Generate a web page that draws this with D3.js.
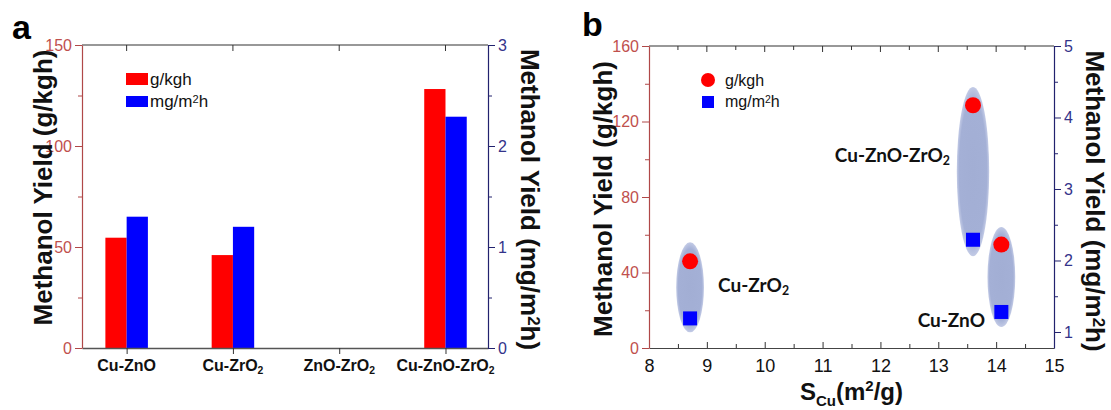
<!DOCTYPE html>
<html><head><meta charset="utf-8">
<script src="https://cdn.jsdelivr.net/npm/d3@7"></script>
<style>body{margin:0;background:#fff}svg{display:block}</style>
</head><body>
<svg id="c" width="1111" height="410"></svg>
<script>
// Panel a data
const catsA = ["Cu-ZnO","Cu-ZrO2","ZnO-ZrO2","Cu-ZnO-ZrO2"];
const yieldG = [54.6, 46.0, 0, 128.2];      // g/kgh
const yieldM = [1.30, 1.20, 0, 2.29];        // mg/m2h
const ticksAL = [0, 50, 100, 150];
const ticksAR = [0, 1, 2, 3];
// Panel b data
const nameB = ["Cu-ZrO2","Cu-ZnO-ZrO2","Cu-ZnO"];
const scu = [8.71, 13.6, 14.09];
const bG = [45.9, 128.6, 54.8];
const bM = [1.19, 2.29, 1.28];
const ellLo = [8.3, 48.6, 11.1];   // ellipse extents (left-axis units)
const ellHi = [56, 138.3, 64.1];
const ellW = [0.24, 0.28, 0.24];   // half width (x units)
const ticksBX = [8,9,10,11,12,13,14,15];
const ticksBL = [0,40,80,120,160];
const ticksBR = [1,2,3,4,5];

const svg = d3.select("#c");
const F = "'Liberation Sans', Arial, sans-serif";
const LC = "#b04848", LT = "#c0504d", RC = "#22226e", RT = "#33338a";
const RED = "#ff0000", BLUE = "#0000ff";
const fd = d3.format("d");

function sub(sel, parts){
  parts.forEach(p=>{ const t = sel.append("tspan").text(p[0]);
    if(p[1]==="sub"){ t.attr("baseline-shift","-28%").attr("font-size","65%"); }
    if(p[1]==="sup"){ t.attr("baseline-shift","40%").attr("font-size","65%"); }
  });
}
function fmtCat(sel, name){
  if(name.endsWith("O2")){ sub(sel, [[name.slice(0,-1)],["2","sub"]]); }
  else sel.text(name);
}

// ---------- Panel a ----------
const aL = 82, aR = 488, aT = 45, aB = 348;
const xa = d3.scaleLinear().domain([0.58, 4.4]).range([aL, aR]);
const yaL = d3.scaleLinear().domain([0,150]).range([aB, aT]);
const yaR = d3.scaleLinear().domain([0,3]).range([aB, aT]);
const bw = xa(1.2)-xa(1);

const ga = svg.append("g");
catsA.forEach((c,i)=>{
  ga.append("rect").attr("x", xa(i+1)-bw).attr("width", bw)
    .attr("y", yaL(yieldG[i])).attr("height", aB-yaL(yieldG[i])).attr("fill", RED);
  ga.append("rect").attr("x", xa(i+1)).attr("width", bw)
    .attr("y", yaR(yieldM[i])).attr("height", aB-yaR(yieldM[i])).attr("fill", BLUE);
});
ga.append("line").attr("x1",aL).attr("x2",aR).attr("y1",aT).attr("y2",aT).attr("stroke","#333").attr("stroke-width",1.2);
catsA.forEach((c,i)=>ga.append("line").attr("x1",xa(i+1)).attr("x2",xa(i+1)).attr("y1",aT).attr("y2",aT+6).attr("stroke","#333"));
const axB = ga.append("g").attr("transform",`translate(0,${aB})`)
  .call(d3.axisBottom(xa).tickValues([1,2,3,4]).tickSize(6).tickSizeOuter(0).tickFormat(""));
axB.select(".domain").attr("stroke","#555").attr("stroke-width",1.5);
axB.selectAll(".tick line").attr("stroke","#333");
catsA.forEach((c,i)=>{
  const t = ga.append("text").attr("x", xa(i+1)).attr("y", aB+23).attr("text-anchor","middle")
    .attr("font-family",F).attr("font-weight","bold").attr("font-size",16).attr("fill","#111");
  fmtCat(t,c);
});
const axL = ga.append("g").attr("transform",`translate(${aL},0)`)
  .call(d3.axisLeft(yaL).tickValues(ticksAL).tickFormat(fd).tickSize(7).tickSizeOuter(0).tickPadding(3));
axL.select(".domain").attr("stroke",LC).attr("stroke-width",1.2);
axL.selectAll(".tick line").attr("stroke",LC);
axL.selectAll(".tick text").attr("fill",LT).attr("font-family",F).attr("font-size",16);
ga.append("g").attr("transform",`translate(${aL},0)`)
  .call(d3.axisLeft(yaL).tickValues([25,75,125]).tickSize(4).tickFormat("")).call(g=>{g.select(".domain").remove(); g.selectAll("line").attr("stroke",LC);});
const axR = ga.append("g").attr("transform",`translate(${aR},0)`)
  .call(d3.axisRight(yaR).tickValues(ticksAR).tickFormat(fd).tickSize(7).tickSizeOuter(0).tickPadding(3));
axR.select(".domain").attr("stroke",RC).attr("stroke-width",1.2);
axR.selectAll(".tick line").attr("stroke",RC);
axR.selectAll(".tick text").attr("fill",RT).attr("font-family",F).attr("font-size",16);
ga.append("g").attr("transform",`translate(${aR},0)`)
  .call(d3.axisRight(yaR).tickValues([0.5,1.5,2.5]).tickSize(4).tickFormat("")).call(g=>{g.select(".domain").remove(); g.selectAll("line").attr("stroke",RC);});
ga.append("text").attr("transform",`translate(52,${(aT+aB)/2-9}) rotate(-90)`).attr("text-anchor","middle")
  .attr("font-family",F).attr("font-weight","bold").attr("font-size",26).attr("fill","#111").text("Methanol Yield (g/kgh)");
{ const t = ga.append("text").attr("transform",`translate(521,${(aT+aB)/2+3}) rotate(90)`).attr("text-anchor","middle")
  .attr("font-family",F).attr("font-weight","bold").attr("font-size",26).attr("fill","#111");
  sub(t,[["Methanol Yield (mg/m"],["2","sup"],["h)"]]); }
ga.append("text").attr("x",12).attr("y",39).attr("font-family",F).attr("font-weight","bold").attr("font-size",34).attr("fill","#000").text("a");
ga.append("rect").attr("x",126).attr("y",73).attr("width",22).attr("height",12).attr("fill",RED);
ga.append("rect").attr("x",126).attr("y",96).attr("width",22).attr("height",11).attr("fill",BLUE);
ga.append("text").attr("x",150).attr("y",85).attr("font-family",F).attr("font-size",17).attr("fill","#111").text("g/kgh");
{ const t = ga.append("text").attr("x",150).attr("y",107).attr("font-family",F).attr("font-size",17).attr("fill","#111");
  sub(t,[["mg/m"],["2","sup"],["h"]]); }

// ---------- Panel b ----------
const bL = 649, bR = 1054, bT = 46, bB = 348;
const xb = d3.scaleLinear().domain([8,15]).range([bL,bR]);
const ybL = d3.scaleLinear().domain([0,160]).range([bB,bT]);
const ybR = d3.scaleLinear().domain([0.776,5]).range([bB,bT]);
const gb = svg.append("g");

const defs = svg.append("defs");
const rg = defs.append("radialGradient").attr("id","eg").attr("cx","50%").attr("cy","50%").attr("r","50%");
rg.append("stop").attr("offset","0%").attr("stop-color","#a2aed4");
rg.append("stop").attr("offset","85%").attr("stop-color","#a4b0d6");
rg.append("stop").attr("offset","100%").attr("stop-color","#c3cbe6");

nameB.forEach((n,i)=>{
  const cy = (ybL(ellLo[i])+ybL(ellHi[i]))/2, ry = (ybL(ellLo[i])-ybL(ellHi[i]))/2;
  gb.append("ellipse").attr("cx",xb(scu[i])).attr("cy",cy).attr("rx",xb(8+ellW[i])-xb(8)).attr("ry",ry).attr("fill","url(#eg)");
});
nameB.forEach((n,i)=>{
  gb.append("circle").attr("cx",xb(scu[i])).attr("cy",ybL(bG[i])).attr("r",8).attr("fill",RED);
  gb.append("rect").attr("x",xb(scu[i])-7).attr("y",ybR(bM[i])-7).attr("width",14).attr("height",14).attr("fill",BLUE);
});
const LF = "Lato, 'Open Sans', sans-serif";
const labPos = [[718,292,"start"],[950,162,"end"],[985,327,"end"]];
nameB.forEach((n,i)=>{
  const t = gb.append("text").attr("x",labPos[i][0]).attr("y",labPos[i][1]).attr("text-anchor",labPos[i][2])
    .attr("font-family",LF).attr("font-weight","bold").attr("font-size",19).attr("fill","#111");
  fmtCat(t,n);
});
gb.append("line").attr("x1",bL).attr("x2",bR).attr("y1",bT).attr("y2",bT).attr("stroke","#333").attr("stroke-width",1.2);
d3.range(8.5,15,0.5).forEach(v=>gb.append("line").attr("x1",xb(v)).attr("x2",xb(v)).attr("y1",bT).attr("y2",bT+(v%1===0?6:4)).attr("stroke","#333"));
const bxa = gb.append("g").attr("transform",`translate(0,${bB})`)
  .call(d3.axisBottom(xb).tickValues(ticksBX).tickFormat(fd).tickSize(-6).tickSizeOuter(0).tickPadding(11));
bxa.select(".domain").attr("stroke","#444").attr("stroke-width",1.2);
bxa.selectAll(".tick line").attr("stroke","#333");
bxa.selectAll(".tick text").attr("font-family",F).attr("font-size",18).attr("fill","#111");
gb.append("g").attr("transform",`translate(0,${bB})`)
  .call(d3.axisBottom(xb).tickValues(d3.range(8.5,15,1)).tickSize(-4).tickFormat("")).call(g=>{g.select(".domain").remove(); g.selectAll("line").attr("stroke","#333");});
const bla = gb.append("g").attr("transform",`translate(${bL},0)`)
  .call(d3.axisLeft(ybL).tickValues(ticksBL).tickFormat(fd).tickSize(7).tickSizeOuter(0).tickPadding(3));
bla.select(".domain").attr("stroke",LC).attr("stroke-width",1.2);
bla.selectAll(".tick line").attr("stroke",LC);
bla.selectAll(".tick text").attr("fill",LT).attr("font-family",F).attr("font-size",16);
gb.append("g").attr("transform",`translate(${bL},0)`)
  .call(d3.axisLeft(ybL).tickValues([20,60,100,140]).tickSize(4).tickFormat("")).call(g=>{g.select(".domain").remove(); g.selectAll("line").attr("stroke",LC);});
const bra = gb.append("g").attr("transform",`translate(${bR},0)`)
  .call(d3.axisRight(ybR).tickValues(ticksBR).tickFormat(fd).tickSize(7).tickSizeOuter(0).tickPadding(3));
bra.select(".domain").attr("stroke",RC).attr("stroke-width",1.2);
bra.selectAll(".tick line").attr("stroke",RC);
bra.selectAll(".tick text").attr("fill",RT).attr("font-family",F).attr("font-size",16);
gb.append("g").attr("transform",`translate(${bR},0)`)
  .call(d3.axisRight(ybR).tickValues([1.5,2.5,3.5,4.5]).tickSize(4).tickFormat("")).call(g=>{g.select(".domain").remove(); g.selectAll("line").attr("stroke",RC);});
gb.append("text").attr("transform",`translate(612,${(bT+bB)/2+2}) rotate(-90)`).attr("text-anchor","middle")
  .attr("font-family",F).attr("font-weight","bold").attr("font-size",26).attr("fill","#111").text("Methanol Yield (g/kgh)");
{ const t = gb.append("text").attr("transform",`translate(1086,${(bT+bB)/2+4}) rotate(90)`).attr("text-anchor","middle")
  .attr("font-family",F).attr("font-weight","bold").attr("font-size",26).attr("fill","#111");
  sub(t,[["Methanol Yield (mg/m"],["2","sup"],["h)"]]); }
{ const t = gb.append("text").attr("x",(bL+bR)/2).attr("y",400).attr("text-anchor","middle")
  .attr("font-family",F).attr("font-weight","bold").attr("font-size",24).attr("fill","#111");
  t.append("tspan").text("S");
  t.append("tspan").text("Cu").attr("font-size",15).attr("dy",6);
  t.append("tspan").text("(m").attr("dy",-6);
  t.append("tspan").text("2").attr("font-size",15).attr("dy",-9);
  t.append("tspan").text("/g)").attr("dy",9); }
gb.append("text").attr("x",582).attr("y",36).attr("font-family",F).attr("font-weight","bold").attr("font-size",34).attr("fill","#000").text("b");
gb.append("circle").attr("cx",708).attr("cy",80).attr("r",7).attr("fill",RED);
gb.append("rect").attr("x",702).attr("y",96).attr("width",12).attr("height",12).attr("fill",BLUE);
gb.append("text").attr("x",725).attr("y",86).attr("font-family",F).attr("font-size",16).attr("fill","#111").text("g/kgh");
{ const t = gb.append("text").attr("x",725).attr("y",107).attr("font-family",F).attr("font-size",16).attr("fill","#111");
  sub(t,[["mg/m"],["2","sup"],["h"]]); }
</script>
</body></html>
